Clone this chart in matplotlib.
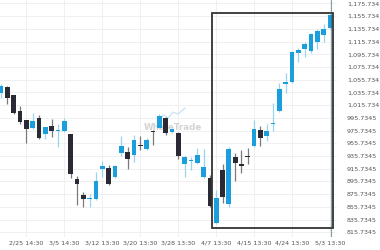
import matplotlib
matplotlib.use("Agg")
import matplotlib.pyplot as plt
from matplotlib.patches import Rectangle

# OHLC, one entry per candle
opens = [1034.8, 1044.3, 1031.7, 1006.5, 992.4, 979.8, 995.5, 970.3, 982.9, 974.5,
         975.1, 970.3, 899.5, 874.4, 867.5, 868.1, 915.3, 916.8, 902.7, 940.4,
         942.0, 937.2, 952.0, 946.7, 973.9, 979.8, 995.5, 973.5, 972.0, 923.1,
         927.4, 924.7, 902.7, 901.1, 830.3, 913.7, 860.2, 934.1, 923.1, 934.5,
         951.4, 976.6, 967.2, 986.0, 1006.5, 1049.0, 1052.1, 1097.7, 1104.0, 1100.9,
         1115.0, 1126.0, 1137.1]
highs = [1049.0, 1046.0, 1032.0, 1014.4, 993.0, 1003.4, 1000.2, 982.0, 994.0, 986.1,
         995.5, 971.0, 904.3, 879.1, 876.0, 910.6, 927.9, 921.6, 921.0, 967.2,
         949.9, 968.8, 967.2, 964.0, 976.6, 1001.8, 997.0, 979.0, 973.0, 935.0,
         934.1, 948.3, 946.7, 905.8, 882.2, 923.1, 949.9, 940.4, 945.2, 948.3,
         992.4, 982.9, 986.1, 1018.8, 1050.5, 1066.3, 1100.9, 1105.6, 1115.0, 1129.2,
         1135.5, 1143.3, 1159.0]
lows = [1027.0, 1017.6, 1001.8, 986.1, 956.2, 978.2, 963.0, 962.5, 965.6, 949.9,
        973.5, 901.1, 858.6, 855.5, 855.5, 867.0, 902.7, 890.1, 901.0, 935.7,
        915.3, 926.3, 945.2, 945.0, 953.0, 979.0, 968.8, 972.0, 931.0, 902.7,
        913.7, 923.0, 901.0, 855.5, 829.0, 861.8, 855.5, 896.4, 909.0, 923.1,
        950.0, 951.4, 959.3, 975.1, 1005.0, 1034.8, 1051.0, 1083.7, 1091.5, 1097.7,
        1104.0, 1115.0, 1136.0]
closes = [1045.8, 1027.0, 1003.4, 989.2, 978.2, 990.8, 964.0, 981.3, 975.1, 975.5,
          990.8, 907.4, 891.7, 868.1, 868.5, 896.4, 920.0, 891.7, 920.0, 951.4,
          931.0, 960.9, 951.0, 960.9, 973.0, 998.6, 972.0, 978.2, 935.7, 934.1,
          928.4, 937.2, 918.4, 857.1, 869.7, 871.2, 946.7, 924.7, 920.0, 933.8,
          978.2, 964.0, 975.1, 987.5, 1041.1, 1052.1, 1099.3, 1102.5, 1111.9, 1127.6,
          1132.3, 1135.5, 1157.5]

yticks = [815.7345 + 20 * k for k in range(19)]
ylabels = ["815.7345", "835.7345", "855.7345", "875.7345", "895.7345", "915.7345",
           "935.7345", "955.7345", "975.7345", "995.7345", "1,015.734", "1,035.734",
           "1,055.734", "1,075.734", "1,095.734", "1,115.734", "1,135.734",
           "1,155.734", "1,175.734"]
xtick_idx = [4, 10, 16, 22, 28, 34, 40, 46, 52]
xlabels = ["2/25 14:30", "3/5 14:30", "3/12 13:30", "3/20 13:30", "3/28 13:30",
           "4/7 13:30", "4/15 13:30", "4/24 13:30", "5/3 13:30"]

# pattern box: first / last candle index and price range
box_x = (33.35, 52.45)
box_y = (822.5, 1161.1)
last_idx = 52

UP = "#1a9fdc"
UP_WICK = "#98d3ef"
DOWN = "#2a2a35"
DOWN_WICK = "#7a7a7a"

fig = plt.figure(figsize=(3.8, 2.5), dpi=100)
ax = fig.add_axes([0.0, 0.052, 0.887, 0.948])

w = 0.74
for i, (o, h, l, c) in enumerate(zip(opens, highs, lows, closes)):
    up = c >= o
    ax.plot([i, i], [l, h], color=UP_WICK if up else DOWN_WICK, lw=0.9,
            solid_capstyle="butt", zorder=2)
    lo = min(o, c)
    hgt = max(abs(c - o), 1.6)
    ax.add_patch(Rectangle((i - w / 2, lo), w, hgt, facecolor=UP if up else DOWN,
                           edgecolor="none", zorder=3))

ax.add_patch(Rectangle((box_x[0], box_y[0]), box_x[1] - box_x[0], box_y[1] - box_y[0],
                       fill=False, edgecolor="#333333", lw=1.3, zorder=4))
ax.axvline(last_idx + 0.15, color="#2f5560", lw=0.8, ls=(0, (1, 0.8)), zorder=5)

# watermark logo
ax.plot([0.466, 0.484, 0.499, 0.513, 0.528, 0.549],
        [0.485, 0.515, 0.502, 0.527, 0.519, 0.544],
        transform=ax.transAxes, color="#cde5f2", lw=1.0, zorder=1)
ax.text(0.512, 0.462, "WhaleTrade", transform=ax.transAxes, ha="center", va="center",
        fontsize=6.3, fontweight="bold", color="#d3d3d3", zorder=1)

ax.set_xlim(-0.16, 53.1)
ax.set_ylim(808.3, 1181.1)
ax.set_yticks(yticks)
ax.set_yticklabels(ylabels)
ax.set_xticks(xtick_idx)
ax.set_xticklabels(xlabels)
ax.yaxis.tick_right()
ax.tick_params(axis="y", length=0, pad=7, labelsize=4.6, labelcolor="#555555")
ax.tick_params(axis="x", length=0, pad=2.5, labelsize=4.6, labelcolor="#555555")
ax.grid(True, color="#eeeeee", lw=0.6, zorder=0)
ax.set_axisbelow(True)
for s in ax.spines.values():
    s.set_visible(False)

fig.savefig("out.png", dpi=100)
